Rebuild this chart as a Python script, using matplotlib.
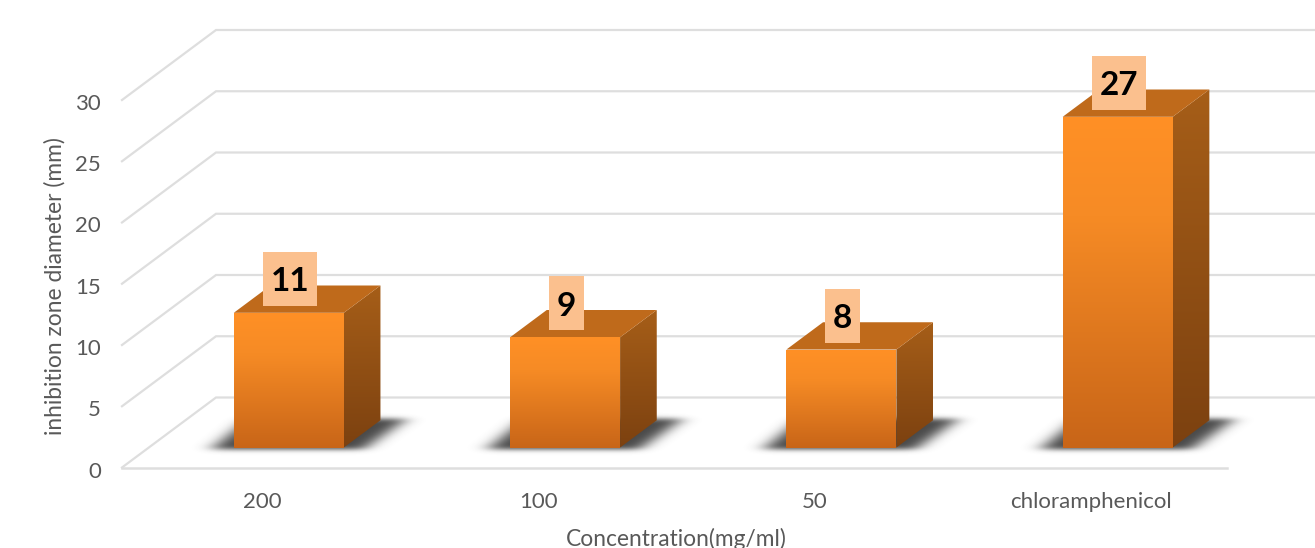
import numpy as np
import matplotlib
matplotlib.use("Agg")
import matplotlib.pyplot as plt
from matplotlib.colors import LinearSegmentedColormap
from matplotlib.patches import Polygon, Rectangle
from matplotlib.path import Path
from matplotlib.transforms import ScaledTranslation

plt.rcParams["font.family"] = ["Lato", "DejaVu Sans"]

categories = ["200", "100", "50", "chloramphenicol"]
values = [11, 9, 8, 27]
y_ticks = [0, 5, 10, 15, 20, 25, 30]

W, H = 1315, 548
LEFT, FLOOR_Y = 122, 467.5   # pixel position of the front corner of the plot
SLOT = 276.3                 # pixels per category
UNIT = 12.25                 # pixels per mm
FIRST_X = 262

# 3D look: depth 0 is the front edge of the floor, depth 1 is the back wall
DX = 94 / SLOT
DY = 70 / UNIT
BAR_W = 110 / SLOT
BAR_D0, BAR_D1 = 0.285, 0.675

GRID = "#dedede"
TEXT = "#595959"

front_cmap = LinearSegmentedColormap.from_list(
    "front", [(0, "#ff9026"), (0.3, "#f68b25"), (1, "#c86518")])
side_cmap = LinearSegmentedColormap.from_list("side", ["#a65e18", "#7c4110"])


def proj(x, y, d):
    return x + d * DX, y + d * DY


def gradient_face(ax, pts, cmap, zorder):
    xs = [p[0] for p in pts]
    ys = [p[1] for p in pts]
    grad = np.linspace(0, 1, 256).reshape(-1, 1)
    im = ax.imshow(grad, cmap=cmap, aspect="auto", zorder=zorder,
                   extent=(min(xs), max(xs), min(ys), max(ys)), origin="upper")
    clip = Polygon(pts, closed=True, transform=ax.transData)
    im.set_clip_path(clip)


def draw_shadow(ax, x0, x1):
    # floor shadow: filled parallelogram on a fine grid, blurred with a gaussian
    px = 1 / SLOT
    py = 1 / UNIT
    y_low = proj(0, 0, BAR_D0)[1] - 2 * py
    y_high = proj(0, 0, BAR_D1)[1] + 2 * py
    pts = [(x0 - 24 * px, y_low), (x1 + 18 * px, y_low),
           (x1 + 62 * px, y_high), (x0 + 14 * px, y_high)]

    margin = 30
    gx = np.arange(x0 - (24 + margin) * px, x1 + (62 + margin) * px, px)
    gy = np.arange(y_low - margin * py, y_high + margin * py, py)
    mx, my = np.meshgrid(gx, gy)
    inside = Path(pts).contains_points(np.column_stack([mx.ravel(), my.ravel()]))
    mask = inside.reshape(mx.shape).astype(float)

    kx = np.exp(-0.5 * (np.arange(-28, 29) / 9.0) ** 2)
    ky = np.exp(-0.5 * (np.arange(-10, 11) / 2.4) ** 2)
    mask = np.apply_along_axis(lambda r: np.convolve(r, kx / kx.sum(), mode="same"), 1, mask)
    mask = np.apply_along_axis(lambda c: np.convolve(c, ky / ky.sum(), mode="same"), 0, mask)

    rgba = np.zeros(mask.shape + (4,))
    rgba[..., :3] = 0.25
    rgba[..., 3] = np.clip(mask * 0.95, 0, 1)
    ax.imshow(rgba, aspect="auto", zorder=2, origin="lower",
              extent=(gx[0], gx[-1], gy[0], gy[-1]))


def draw_bar(ax, i, value):
    x0 = i - BAR_W / 2 + BAR_D0 * DX
    x1 = x0 + BAR_W
    bottom = BAR_D0 * DY
    top = bottom + value
    dx = (BAR_D1 - BAR_D0) * DX
    dy = (BAR_D1 - BAR_D0) * DY

    draw_shadow(ax, x0, x1)
    gradient_face(ax, [(x0, bottom), (x1, bottom), (x1, top), (x0, top)], front_cmap, 4)
    gradient_face(ax, [(x1, bottom), (x1 + dx, bottom + dy), (x1 + dx, top + dy), (x1, top)],
                  side_cmap, 3)
    ax.add_patch(Polygon([(x0, top), (x1, top), (x1 + dx, top + dy), (x0 + dx, top + dy)],
                         closed=True, fc="#bf6a1b", ec="none", zorder=3))

    # value label sits on a pale box above the front top edge
    label = str(value)
    box_w = (16 + 19 * len(label)) / SLOT
    box_h = 54 / UNIT
    cx = (x0 + x1) / 2 + 1 / SLOT
    cy = top + 34 / UNIT
    ax.add_patch(Rectangle((cx - box_w / 2, cy - box_h / 2), box_w, box_h,
                           fc="#fbc08e", ec="none", zorder=5))
    ax.text(cx, cy - 3 / UNIT, label, ha="center", va="center", fontsize=24,
            fontweight="bold", color="black", zorder=6)


fig = plt.figure(figsize=(W / 100, H / 100), dpi=100)
ax = fig.add_axes([LEFT / W, 1 - FLOOR_Y / H, (W - LEFT) / W, FLOOR_Y / H])

x_min = (LEFT - FIRST_X) / SLOT
x_max = (W - FIRST_X) / SLOT
y_max = FLOOR_Y / UNIT

# walls and floor
for t in y_ticks:
    bx, by = proj(x_min, t, 1)
    ax.plot([x_min, bx, x_max], [t, by, by], color=GRID, lw=1.6, zorder=1,
            clip_on=False, solid_joinstyle="miter")
ax.plot([x_min, x_min + 4], [0, 0], color=GRID, lw=1.8, zorder=1, clip_on=False)

for i, v in enumerate(values):
    draw_bar(ax, i, v)

ax.set_xlim(x_min, x_max)
ax.set_ylim(0, y_max)
for s in ax.spines.values():
    s.set_visible(False)

ax.set_xticks(range(len(categories)))
ax.set_xticklabels(categories)
ax.set_yticks(y_ticks)
ax.tick_params(axis="both", length=0, labelsize=16, labelcolor=TEXT)
ax.tick_params(axis="x", pad=17.5)
ax.tick_params(axis="y", pad=15)

# y labels sit a little under their grid lines
shift = ScaledTranslation(0, -2 / 100, fig.dpi_scale_trans)
for lab in ax.get_yticklabels():
    lab.set_transform(lab.get_transform() + shift)

ax.set_xlabel("Concentration(mg/ml)", fontsize=16.4, color=TEXT)
ax.xaxis.set_label_coords((676 - LEFT) / (W - LEFT), -(539 - FLOOR_Y) / FLOOR_Y)
ax.xaxis.label.set_va("center")
ax.set_ylabel("inhibition zone diameter (mm)", fontsize=16.4, color=TEXT)
ax.yaxis.set_label_coords((55 - LEFT) / (W - LEFT), (FLOOR_Y - 286) / FLOOR_Y)
ax.yaxis.label.set_va("center")

fig.savefig("out.png", dpi=100)
plt.close(fig)
